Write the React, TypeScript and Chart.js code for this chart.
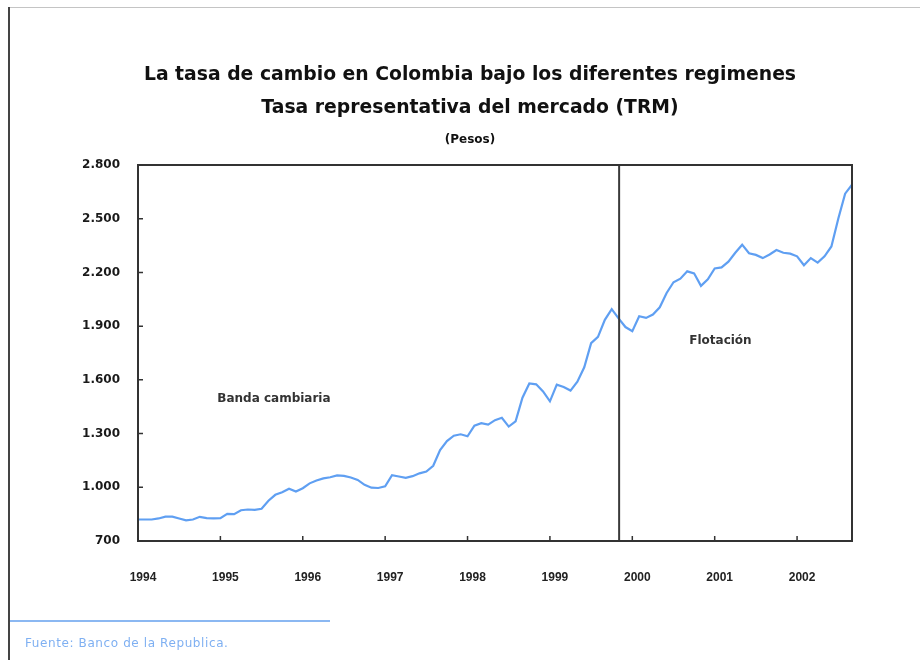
import React, { useEffect, useRef } from "react";
import { Chart, registerables } from "chart.js";

Chart.register(...registerables);

// Monthly TRM (pesos per dollar), January 1994 onwards
const START_YEAR = 1994;
const TRM = [
  820, 820, 820, 826, 836, 836, 826, 815, 820, 835, 828, 826,
  828, 852, 850, 872, 876, 874, 880, 925, 958, 972, 992, 976,
  995, 1022, 1038, 1050, 1056, 1066, 1064, 1055, 1041, 1014, 998, 996,
  1005, 1067, 1060, 1053, 1062, 1078, 1088, 1120, 1208, 1258, 1288, 1296,
  1285, 1344, 1358, 1350, 1375, 1388, 1339, 1368, 1500, 1580, 1575, 1535,
  1480, 1573, 1560, 1540, 1590, 1670, 1805, 1840, 1935, 1995, 1943, 1895,
  1872, 1955, 1946, 1965, 2005, 2085, 2145, 2165, 2206, 2195, 2125, 2162,
  2222, 2228, 2260, 2310, 2355, 2307, 2298, 2280, 2300, 2325, 2310, 2305,
  2290, 2240, 2280, 2255, 2290, 2345, 2500, 2640, 2690,
];

const YEAR_TICKS = [1994, 1995, 1996, 1997, 1998, 1999, 2000, 2001, 2002];
const VALUE_TICKS = [700, 1000, 1300, 1600, 1900, 2200, 2500, 2800];
const REGIME_CHANGE = 1999.84;
const REGIME_LABELS = [
  { text: "Banda cambiaria", x: 1995.65, y: 1494 },
  { text: "Flotación", x: 2001.07, y: 1817 },
];

const X_MIN = START_YEAR;
const X_MAX = START_YEAR + (TRM.length - 1) / 12;

const fmt = (v: number) => v.toLocaleString("de-DE");

const framePlugin = {
  id: "trmFrame",
  afterDatasetsDraw(chart: any) {
    const { ctx, chartArea: a, scales } = chart;
    const xs = scales.x;
    const ys = scales.y;
    ctx.save();
    // regime change marker
    const vx = xs.getPixelForValue(REGIME_CHANGE);
    ctx.strokeStyle = "#3a3a3a";
    ctx.lineWidth = 2;
    ctx.beginPath();
    ctx.moveTo(vx, a.top);
    ctx.lineTo(vx, a.bottom);
    ctx.stroke();
    // plot box
    ctx.strokeStyle = "#333";
    ctx.lineWidth = 2;
    ctx.strokeRect(a.left, a.top, a.right - a.left, a.bottom - a.top);
    // inward ticks
    ctx.lineWidth = 1.5;
    ctx.beginPath();
    YEAR_TICKS.forEach((yr) => {
      const px = xs.getPixelForValue(yr);
      ctx.moveTo(px, a.bottom);
      ctx.lineTo(px, a.bottom - 5);
    });
    VALUE_TICKS.forEach((v) => {
      const py = ys.getPixelForValue(v);
      ctx.moveTo(a.left, py);
      ctx.lineTo(a.left + 5, py);
    });
    ctx.stroke();
    // regime labels
    ctx.fillStyle = "#333";
    ctx.font = "bold 12px 'DejaVu Sans'";
    ctx.textAlign = "center";
    ctx.textBaseline = "middle";
    REGIME_LABELS.forEach((l) => {
      ctx.fillText(l.text, xs.getPixelForValue(l.x), ys.getPixelForValue(l.y));
    });
    ctx.restore();
  },
};

export default function App() {
  const ref = useRef<HTMLCanvasElement>(null);

  useEffect(() => {
    if (!ref.current) return;
    const chart = new Chart(ref.current, {
      type: "line",
      data: {
        datasets: [
          {
            data: TRM.map((v, i) => ({ x: START_YEAR + i / 12, y: v })),
            borderColor: "#5f9ff2",
            borderWidth: 2.2,
            pointRadius: 0,
            tension: 0,
            fill: false,
          },
        ],
      },
      options: {
        responsive: false,
        animation: false,
        devicePixelRatio: 1,
        layout: { padding: { left: 0, top: 165, right: 70, bottom: 0 } },
        plugins: {
          legend: { display: false },
          tooltip: { enabled: false },
          title: { display: false },
        },
        scales: {
          x: {
            type: "linear",
            min: X_MIN,
            max: X_MAX,
            afterBuildTicks: (s: any) => {
              s.ticks = YEAR_TICKS.map((v) => ({ value: v }));
            },
            afterFit: (s: any) => {
              s.height = 660 - 541;
            },
            grid: { display: false, drawTicks: false },
            border: { display: false },
            ticks: {
              padding: 29,
              labelOffset: 5,
              autoSkip: false,
              maxRotation: 0,
              color: "#222",
              font: { family: "'Liberation Sans'", size: 12, weight: "bold" },
              callback: (v: any) => String(v),
            },
          },
          y: {
            min: 700,
            max: 2800,
            afterBuildTicks: (s: any) => {
              s.ticks = VALUE_TICKS.map((v) => ({ value: v }));
            },
            afterFit: (s: any) => {
              s.width = 138;
            },
            grid: { display: false, drawTicks: false },
            border: { display: false },
            ticks: {
              padding: 18,
              color: "#1a1a1a",
              font: { family: "'DejaVu Sans'", size: 12, weight: "bold" },
              callback: (v: any) => fmt(Number(v)),
            },
          },
        },
      },
      plugins: [framePlugin],
    });
    return () => chart.destroy();
  }, []);

  const titleStyle: React.CSSProperties = {
    position: "absolute",
    left: 0,
    width: 940,
    textAlign: "center",
    fontFamily: "'DejaVu Sans', sans-serif",
    fontWeight: "bold",
    color: "#111",
    whiteSpace: "nowrap",
    lineHeight: 1,
  };

  return (
    <div
      style={{
        position: "absolute",
        left: 0,
        top: 0,
        width: 922,
        height: 660,
        overflow: "hidden",
        background: "#fff",
      }}
    >
      <div style={{ position: "absolute", left: 8, top: 7, width: 912, height: 1, background: "#c4c4c4" }} />
      <div style={{ position: "absolute", left: 8, top: 7, width: 2, height: 653, background: "#444" }} />
      <canvas ref={ref} width={922} height={660} style={{ position: "absolute", left: 0, top: 0 }} />
      <div style={{ ...titleStyle, top: 65, fontSize: 18.8 }}>
        La tasa de cambio en Colombia bajo los diferentes regimenes
      </div>
      <div style={{ ...titleStyle, top: 98, fontSize: 18.8 }}>
        Tasa representativa del mercado (TRM)
      </div>
      <div style={{ ...titleStyle, top: 133, fontSize: 12 }}>(Pesos)</div>
      <div style={{ position: "absolute", left: 10, top: 620, width: 320, height: 2, background: "#8bb8f2" }} />
      <div
        style={{
          position: "absolute",
          left: 25,
          top: 636,
          fontFamily: "'DejaVu Sans', sans-serif",
          fontSize: 12,
          letterSpacing: 0.6,
          color: "#7fb0f2",
          whiteSpace: "nowrap",
        }}
      >
        Fuente: Banco de la Republica.
      </div>
    </div>
  );
}
